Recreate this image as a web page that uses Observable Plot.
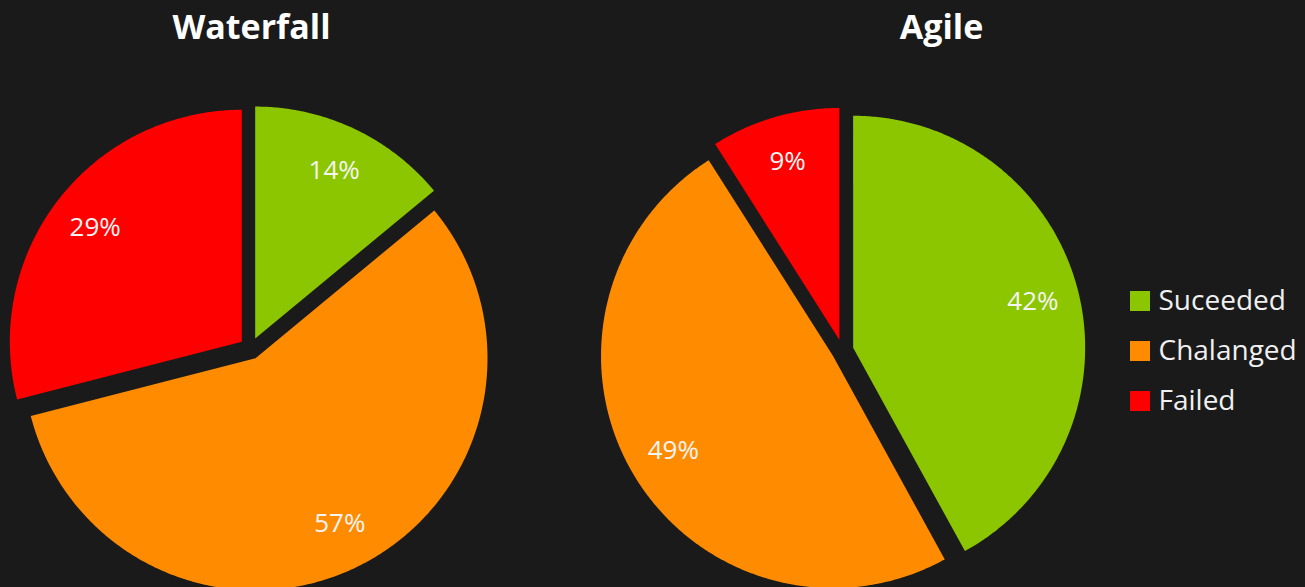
<!DOCTYPE html>
<html>
<head>
<meta charset="utf-8">
<script src="https://cdn.jsdelivr.net/npm/d3@7"></script>
<script src="https://cdn.jsdelivr.net/npm/@observablehq/plot@0.6"></script>
<style>
  html, body { margin: 0; padding: 0; background: #1a1a1a; }
  #chart svg { display: block; }
</style>
</head>
<body>
<div id="chart"></div>
<script>
// ---- data ----
const charts = ["Waterfall", "Agile"];
const categories = ["Suceeded", "Chalanged", "Failed"];
const waterfallValues = [14, 57, 29];
const agileValues = [42, 49, 9];
const colors = ["#8cc600", "#ff8c00", "#ff0000"];

// ---- layout (pixels) ----
const W = 1305, H = 587;
const R = 232;            // pie radius
const EXPLODE = 11;       // slice offset
const LABEL_R = 0.8;      // label radius fraction
const centers = { Waterfall: [250, 348], Agile: [842, 350] };
const titlePos = { Waterfall: [251, 28], Agile: [941, 28] };
const legendX = 1130, legendY0 = 301, legendStep = 50, sw = 20;

const valuesByChart = { Waterfall: waterfallValues, Agile: agileValues };

const slicePts = [];
const labels = [];
for (const chart of charts) {
  const vals = valuesByChart[chart];
  const [cx, cy] = centers[chart];
  const arcs = d3.pie().sort(null).value(d => d)(vals);
  arcs.forEach((a, i) => {
    const mid = (a.startAngle + a.endAngle) / 2;
    const ox = cx + EXPLODE * Math.sin(mid), oy = cy - EXPLODE * Math.cos(mid);
    const key = chart + "-" + i;
    slicePts.push({ key, cat: categories[i], x: ox, y: oy });
    const n = Math.max(2, Math.ceil((a.endAngle - a.startAngle) / (Math.PI / 360)));
    for (let k = 0; k <= n; k++) {
      const t = a.startAngle + (a.endAngle - a.startAngle) * k / n;
      slicePts.push({ key, cat: categories[i], x: ox + R * Math.sin(t), y: oy - R * Math.cos(t) });
    }
    slicePts.push({ key, cat: categories[i], x: ox, y: oy });
    labels.push({
      text: vals[i] + "%",
      x: ox + LABEL_R * R * Math.sin(mid),
      y: oy - LABEL_R * R * Math.cos(mid)
    });
  });
}

const titles = charts.map(c => ({ text: c, x: titlePos[c][0], y: titlePos[c][1] }));
const legend = categories.map((c, i) => ({ cat: c, y: legendY0 + i * legendStep }));

const plot = Plot.plot({
  width: W,
  height: H,
  margin: 0,
  style: { background: "#1a1a1a", fontFamily: "'Open Sans', sans-serif" },
  x: { domain: [0, W], range: [0, W], axis: null },
  y: { domain: [0, H], range: [0, H], axis: null },
  color: { domain: categories, range: colors },
  marks: [
    Plot.line(slicePts, { x: "x", y: "y", z: "key", fill: "cat", stroke: "none", curve: "linear-closed" }),
    Plot.text(labels, { x: "x", y: "y", text: "text", fill: "#f4f4f4", fontSize: 26 }),
    Plot.text(titles, { x: "x", y: "y", text: "text", fill: "#ffffff", fontSize: 34, fontWeight: "bold" }),
    Plot.rect(legend, {
      x1: () => legendX, x2: () => legendX + sw,
      y1: d => d.y - sw / 2, y2: d => d.y + sw / 2,
      fill: "cat"
    }),
    Plot.text(legend, { x: () => legendX + sw + 8, y: "y", text: "cat", fill: "#f0f0f0", fontSize: 28, textAnchor: "start" })
  ]
});
document.getElementById("chart").append(plot);
</script>
</body>
</html>
